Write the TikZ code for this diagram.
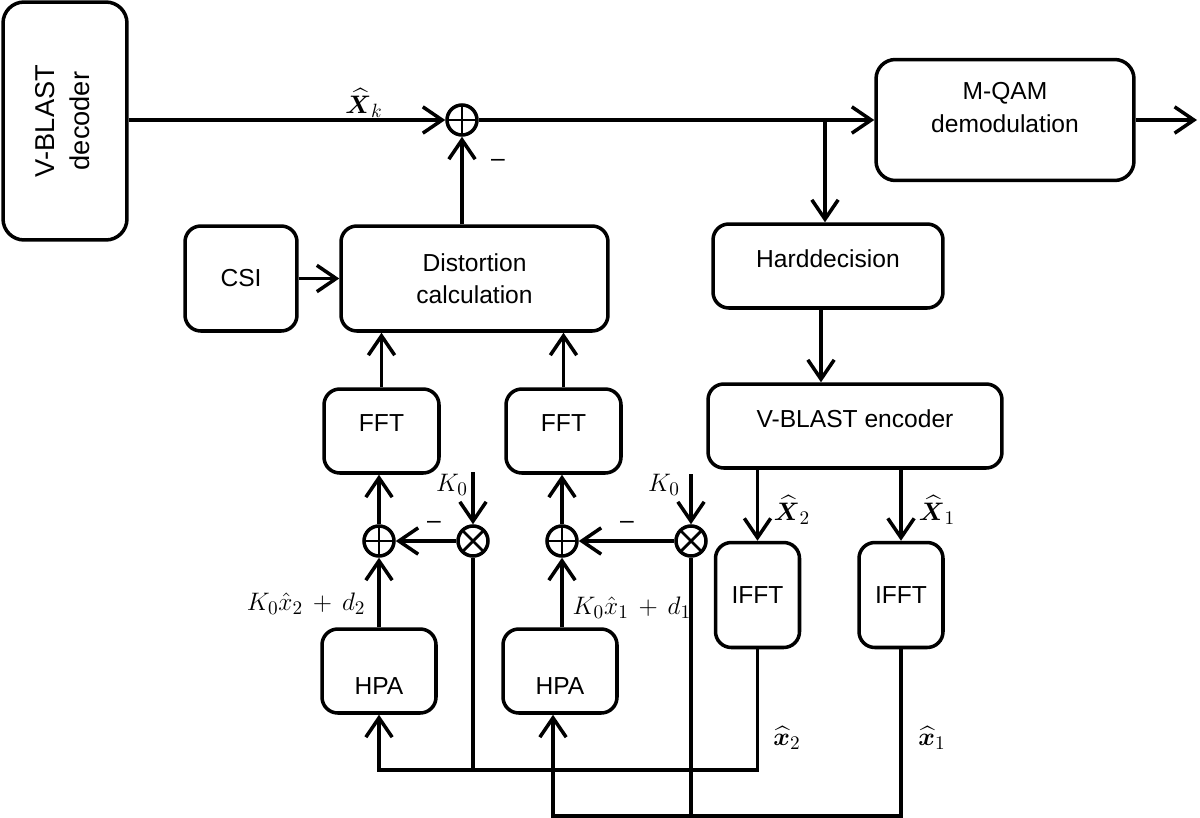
\documentclass[tikz,border=0pt]{standalone}
\usepackage{amsmath,amssymb}
\usepackage{graphicx}
\usepackage[no-math]{fontspec}
\setmainfont{Liberation Sans}
\usepackage{tikz}
\usetikzlibrary{positioning,calc,arrows.meta}

\begin{document}
\begin{tikzpicture}[x=0.02cm,y=-0.02cm,
    line width=2pt,
    font=\fontsize{14}{18.5}\selectfont,
    >={Straight Barb[length=11pt,width=15pt]},
    block/.style={draw,rounded corners=9pt,align=center,inner sep=2pt},
    textup/.style={text depth=9pt},
    textdown/.style={text height=27pt},
    sig/.style={font=\fontsize{15}{18}\selectfont},
    adder/.style={draw,circle,minimum size=0.6cm,inner sep=0pt,
        path picture={\draw[line width=1.6pt]
            (path picture bounding box.north) -- (path picture bounding box.south)
            (path picture bounding box.west) -- (path picture bounding box.east);}},
    mixer/.style={draw,circle,minimum size=0.6cm,inner sep=0pt,
        path picture={\draw[line width=1.6pt]
            (path picture bounding box.north west) -- (path picture bounding box.south east)
            (path picture bounding box.north east) -- (path picture bounding box.south west);}}]
    \useasboundingbox (0,0) rectangle (1200,818);

    % Receiver chain
    \node [block, minimum width=2.48cm, minimum height=4.76cm, rounded corners=12pt,
        font=\fontsize{15.5}{20}\selectfont] (dec) at (65,121)
        {\rotatebox{90}{\begin{tabular}{@{}c@{}}V-BLAST\\decoder\end{tabular}}};
    \node [adder] (sum0) at (462,120) {};
    \node [block, minimum width=5.16cm, minimum height=2.42cm, rounded corners=11pt] (mqam) at (1005,120)
        {M-QAM\\demodulation\\[-4pt]\mbox{}};
    \coordinate (out) at (1197,120);
    \coordinate (br) at (825,120);
    \node [block, textup, minimum width=4.6cm, minimum height=1.68cm] (hd) at (828,266) {Harddecision};
    \node [block, textup, minimum width=5.88cm, minimum height=1.68cm] (enc) at (855,426) {V-BLAST encoder};
    \node [block, minimum width=1.68cm, minimum height=2.1cm] (ifft2) at (757.5,595) {IFFT};
    \node [block, minimum width=1.68cm, minimum height=2.1cm] (ifft1) at (901,595) {IFFT};

    % Distortion estimation
    \node [block, minimum width=5.34cm, minimum height=2.1cm] (dist) at (474.5,278.5) {Distortion\\calculation};
    \node [block, minimum width=2.24cm, minimum height=2.1cm] (csi) at (241,278.5) {CSI};
    \node [block, textup, minimum width=2.3cm, minimum height=1.68cm] (fft2) at (381.5,431) {FFT};
    \node [block, textup, minimum width=2.3cm, minimum height=1.68cm] (fft1) at (563.5,431) {FFT};
    \node [adder] (sum2) at (379,541) {};
    \node [mixer] (mul2) at (473,541) {};
    \node [adder] (sum1) at (562,541) {};
    \node [mixer] (mul1) at (691,541) {};
    \coordinate (k2) at (473,472);
    \coordinate (k1) at (691,474);
    \node [block, textdown, minimum width=2.28cm, minimum height=1.68cm] (hpa2) at (379,671) {HPA};
    \node [block, textdown, minimum width=2.28cm, minimum height=1.68cm] (hpa1) at (560,671) {HPA};
    \coordinate (b2) at (0,770);
    \coordinate (b1) at (0,816);

    % Labels
    \node [sig] (xk) at (364,103) {$\boldsymbol{\widehat{X}}_k$};
    \node (m0) at (498,163) {--};
    \node (m2) at (434,525) {--};
    \node (m1) at (627,525) {--};
    \node [sig] (kz2) at (452,485) {$K_0$};
    \node [sig] (kz1) at (664,485) {$K_0$};
    \node [sig, anchor=east] (g2) at (373,604) {$K_0\hat{x}_2 \,+\, d_2$};
    \node [sig, anchor=west] (g1) at (565,608) {$K_0\hat{x}_1 \,+\, d_1$};
    \node [sig] (xh2) at (792,510) {$\boldsymbol{\widehat{X}}_2$};
    \node [sig] (xh1) at (937,510) {$\boldsymbol{\widehat{X}}_1$};
    \node [sig] (xl2) at (787,738) {$\boldsymbol{\widehat{x}}_2$};
    \node [sig] (xl1) at (932,738) {$\boldsymbol{\widehat{x}}_1$};

    % Forward path
    \draw [->] (dec.east |- sum0.west) -- (sum0.west);
    \draw [->] (sum0.east) -- (mqam.west);
    \draw [->] (mqam.east) -- (out);
    \draw [->] (br) -- (br |- hd.north);
    \draw [->] ([xshift=-0.14cm]hd.south) -- ([xshift=-0.14cm]hd.south |- enc.north);
    \draw [->] (ifft2.north |- enc.south) -- (ifft2.north);
    \draw [->] (ifft1.north |- enc.south) -- (ifft1.north);

    % Cancellation loop
    \draw [->] (dist.north -| sum0) -- (sum0.south);
    \draw [->] (csi.east) -- (dist.west);
    \draw [->] (fft2.north) -- (fft2.north |- dist.south);
    \draw [->] (fft1.north) -- (fft1.north |- dist.south);
    \draw [->] (sum2.north) -- (sum2.north |- fft2.south);
    \draw [->] (sum1.north) -- (sum1.north |- fft1.south);
    \draw [->] (mul2.west) -- (sum2.east);
    \draw [->] (mul1.west) -- (sum1.east);
    \draw [->] (k2) -- (mul2.north);
    \draw [->] (k1) -- (mul1.north);
    \draw [->] (hpa2.north -| sum2) -- (sum2.south);
    \draw [->] (hpa1.north -| sum1) -- (sum1.south);

    % Feedback of the re-encoded symbols
    \draw [->] (ifft2.south) |- (hpa2.south |- b2) -- (hpa2.south);
    \draw (mul2.south) -- (mul2.south |- b2);
    \draw [->] (ifft1.south) |- ([xshift=-0.14cm]hpa1.south |- b1) -- ([xshift=-0.14cm]hpa1.south);
    \draw (mul1.south) -- (mul1.south |- b1);
\end{tikzpicture}
\end{document}
